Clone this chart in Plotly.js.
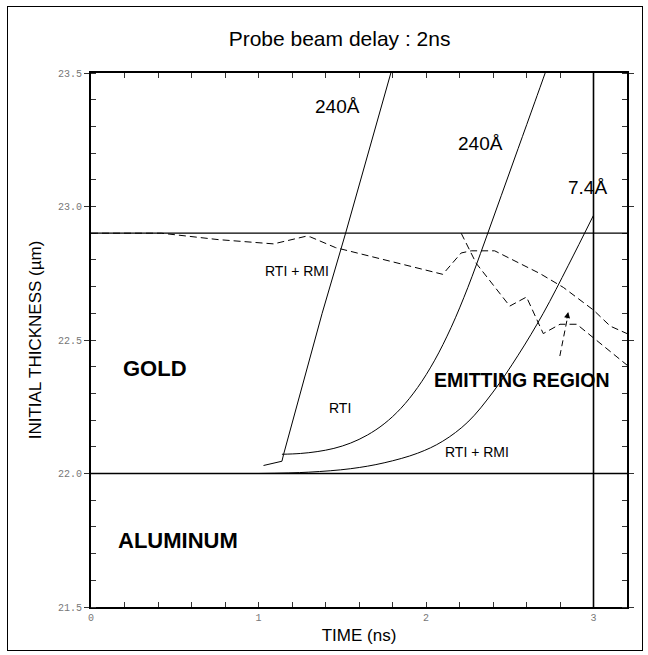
<!DOCTYPE html>
<html>
<head>
<meta charset="utf-8">
<script src="https://cdn.plot.ly/plotly-3.0.1.min.js"></script>
<style>
  html, body { margin: 0; padding: 0; background: #fff; }
  #chart { width: 648px; height: 655px; }
  #frame { position: absolute; left: 7px; top: 6px; width: 634px; height: 643px; border: 1px solid #000; pointer-events: none; }
</style>
</head>
<body>
<div id="chart"></div>
<div id="frame"></div>
<script>
// ---- data ----
// 240 Å perturbation, RTI + RMI
const time240a = [1.03, 1.14, 1.15, 1.38, 1.52, 1.79];
const thick240a = [22.03, 22.046, 22.072, 22.60, 22.90, 23.50];
// 240 Å perturbation, RTI only
const time240b = [1.14, 1.25, 1.35, 1.45, 1.55, 1.65, 1.75, 1.85, 1.95, 2.05, 2.15, 2.25, 2.35, 2.45, 2.55, 2.65, 2.72];
const thick240b = [22.072, 22.075, 22.082, 22.094, 22.114, 22.144, 22.186, 22.244, 22.322, 22.422, 22.547, 22.697, 22.867, 23.042, 23.217, 23.392, 23.515];
// 7.4 Å perturbation, RTI + RMI
const time74 = [1.0, 1.3, 1.55, 1.75, 1.95, 2.10, 2.25, 2.40, 2.55, 2.70, 2.85, 3.0];
const thick74 = [22.0, 22.005, 22.018, 22.04, 22.076, 22.121, 22.193, 22.305, 22.443, 22.60, 22.78, 22.967];
// emitting region boundaries (dashed)
const timeEmitUpper = [0.0, 0.42, 0.76, 1.09, 1.28, 1.31, 1.46, 2.10, 2.21, 2.27, 2.41, 2.68, 2.82, 3.0, 3.10, 3.20];
const thickEmitUpper = [22.90, 22.90, 22.876, 22.86, 22.888, 22.886, 22.846, 22.746, 22.826, 22.834, 22.834, 22.749, 22.697, 22.612, 22.552, 22.524];
const timeEmitLower = [2.21, 2.30, 2.50, 2.60, 2.70, 2.80, 2.90, 3.20];
const thickEmitLower = [22.90, 22.787, 22.627, 22.661, 22.524, 22.559, 22.559, 22.406];
// reference levels
const goldSurface = 22.9;
const goldAlInterface = 22.0;
const probeTime = 3.0;
// axis ranges
const timeRange = [0, 3.2];
const thickRange = [21.5, 23.5];

const black = '#000';
const solid = {color: black, width: 1};
const dashed = {color: black, width: 1, dash: '7px,4px'};

const traces = [
  {x: time240a, y: thick240a, mode: 'lines', line: solid, name: '240Å RTI + RMI'},
  {x: time240b, y: thick240b, mode: 'lines', line: Object.assign({shape: 'spline', smoothing: 1.0}, solid), name: '240Å RTI'},
  {x: time74, y: thick74, mode: 'lines', line: Object.assign({shape: 'spline', smoothing: 1.0}, solid), name: '7.4Å RTI + RMI'},
  {x: timeEmitUpper, y: thickEmitUpper, mode: 'lines', line: dashed, name: 'emitting region (upper)'},
  {x: timeEmitLower, y: thickEmitLower, mode: 'lines', line: dashed, name: 'emitting region (lower)'}
];

const txt = (x, y, text, size, bold) => ({
  x: x, y: y, xref: 'x', yref: 'y', text: bold ? '<b>' + text + '</b>' : text,
  showarrow: false, font: {family: 'Liberation Sans, Arial, sans-serif', size: size, color: black}
});

const layout = {
  width: 648, height: 655,
  margin: {l: 91, r: 21, t: 73, b: 48},
  paper_bgcolor: '#fff', plot_bgcolor: '#fff',
  showlegend: false,
  font: {family: 'Liberation Sans, Arial, sans-serif', color: black},
  title: {
    text: 'Probe beam delay : 2ns',
    font: {family: 'Liberation Sans, Arial, sans-serif', size: 21, color: black},
    x: 0.524, xref: 'container', xanchor: 'center',
    y: 1 - 38.5 / 655, yref: 'container', yanchor: 'middle'
  },
  xaxis: {
    range: timeRange, dtick: 1, tick0: 0,
    showgrid: false, zeroline: false,
    showline: true, linecolor: black, linewidth: 2, mirror: 'ticks',
    ticks: 'inside', ticklen: 5, tickwidth: 1, tickcolor: '#333',
    minor: {dtick: 0.2, ticks: 'inside', ticklen: 5, tickwidth: 1, tickcolor: '#333', showgrid: false},
    tickfont: {family: 'Liberation Mono, DejaVu Sans Mono, monospace', size: 10, color: '#777'},
    title: {text: 'TIME (ns)', font: {size: 17, color: black}, standoff: 6}
  },
  yaxis: {
    range: thickRange, dtick: 0.5, tick0: 21.5, tickformat: '.1f',
    showgrid: false, zeroline: false,
    showline: true, linecolor: black, linewidth: 2, mirror: 'ticks',
    ticks: 'outside', ticklen: 5, tickwidth: 1, tickcolor: '#333',
    minor: {dtick: 0.1, ticks: 'inside', ticklen: 5, tickwidth: 1, tickcolor: '#333', showgrid: false},
    tickfont: {family: 'Liberation Mono, DejaVu Sans Mono, monospace', size: 10, color: '#777'},
    title: {text: 'INITIAL THICKNESS (µm)', font: {size: 17, color: black}, standoff: 12}
  },
  shapes: [
    {type: 'line', xref: 'paper', x0: 0, x1: 1, yref: 'y', y0: goldSurface, y1: goldSurface, line: {color: black, width: 1.2}},
    {type: 'line', xref: 'paper', x0: 0, x1: 1, yref: 'y', y0: goldAlInterface, y1: goldAlInterface, line: {color: black, width: 1.6}},
    {type: 'line', xref: 'x', x0: probeTime, x1: probeTime, yref: 'paper', y0: 0, y1: 1, line: {color: black, width: 1.6}},
    {type: 'line', xref: 'x', yref: 'y', x0: 2.799, y0: 22.44, x1: 2.845, y1: 22.585, line: {color: black, width: 1, dash: '6px,4px'}}
  ],
  annotations: [
    txt(1.472, 23.376, '240Å', 19, false),
    txt(2.325, 23.236, '240Å', 19, false),
    txt(2.963, 23.073, '7.4Å', 19, false),
    txt(1.229, 22.759, 'RTI + RMI', 14, false),
    txt(1.488, 22.247, 'RTI', 14, false),
    txt(2.305, 22.081, 'RTI + RMI', 14, false),
    txt(2.574, 22.352, 'EMITTING REGION', 19.5, true),
    txt(0.383, 22.393, 'GOLD', 22, true),
    txt(0.522, 21.75, 'ALUMINUM', 22, true),
    {x: 2.849, y: 22.605, xref: 'x', yref: 'y', text: '', showarrow: true,
     ax: -1.5, ay: 8, arrowhead: 2, arrowsize: 1.2, arrowwidth: 1, arrowcolor: black, standoff: 0}
  ]
};

Plotly.newPlot('chart', traces, layout, {displayModeBar: false, staticPlot: true});
</script>
</body>
</html>
